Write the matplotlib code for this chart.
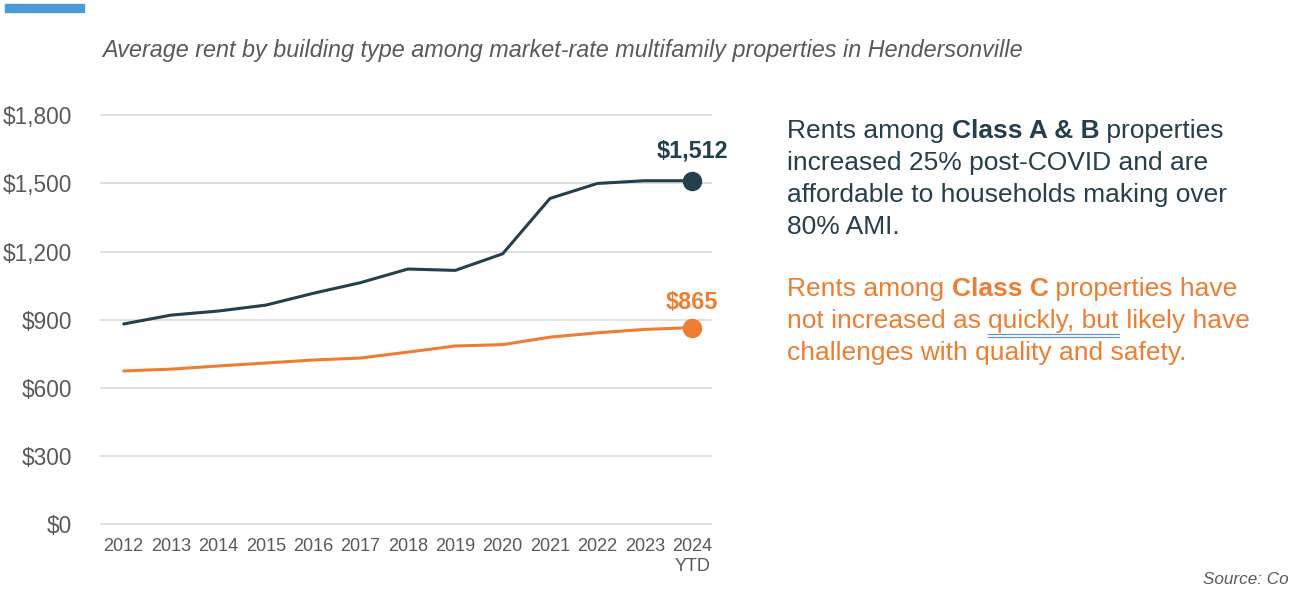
import matplotlib.pyplot as plt
from matplotlib.lines import Line2D

plt.rcParams['font.family'] = ['Liberation Sans', 'DejaVu Sans']

years = ['2012', '2013', '2014', '2015', '2016', '2017', '2018',
         '2019', '2020', '2021', '2022', '2023', '2024\nYTD']
class_ab = [881, 920, 938, 964, 1016, 1063, 1123, 1117, 1190, 1434, 1500, 1512, 1512]
class_c = [674, 682, 696, 709, 722, 731, 757, 784, 790, 823, 842, 857, 865]
yticks = [0, 300, 600, 900, 1200, 1500, 1800]

dark = '#243F4E'
orange = '#ED7D31'
gray = '#595959'

W, H = 1291, 592
fig = plt.figure(figsize=(W / 100, H / 100), dpi=100)

# axes placed in pixel terms
ax = fig.add_axes([100 / W, (H - 528.5) / H, 612 / W, (528.5 - 110.8) / H])
x = list(range(len(years)))
ax.plot(x, class_ab, color=dark, lw=2.2, solid_capstyle='round', zorder=3)
ax.plot(x, class_c, color=orange, lw=2.2, solid_capstyle='round', zorder=3)
ax.plot(x[-1], class_ab[-1], 'o', color=dark, ms=13, zorder=4)
ax.plot(x[-1], class_c[-1], 'o', color=orange, ms=13, zorder=4)

ax.annotate(f'${class_ab[-1]:,}', (x[-1], class_ab[-1]), xytext=(0, 13),
            textcoords='offset points', ha='center', va='bottom',
            fontsize=16.8, fontweight='bold', color=dark)
ax.annotate(f'${class_c[-1]:,}', (x[-1], class_c[-1]), xytext=(0, 10),
            textcoords='offset points', ha='center', va='bottom',
            fontsize=16.8, fontweight='bold', color=orange)

ax.set_xlim(-0.5, 12.42)
ax.set_ylim(-20, 1820)
ax.set_xticks(x)
ax.set_xticklabels(years, fontsize=13, color=gray)
ax.set_yticks(yticks)
ax.set_yticklabels([f'${v:,}' for v in yticks], fontsize=16.3, color=gray)
ax.tick_params(axis='both', length=0)
ax.tick_params(axis='x', pad=7)
ax.tick_params(axis='y', pad=20)
ax.grid(axis='y', color='#D9D9D9', lw=1.2)
ax.set_axisbelow(True)
for s in ax.spines.values():
    s.set_visible(False)

# top accent bar and title
fig.add_artist(plt.Rectangle((5 / W, 1 - 12 / H), 79 / W, 8 / H,
                             color='#4A9BD4', transform=fig.transFigure))
fig.text(102 / W, 1 - 50 / H, 'Average rent by building type among market-rate '
         'multifamily properties in Hendersonville', fontsize=16.8,
         style='italic', color=gray, va='center')
fig.text(1289 / W, 1 - 580 / H, 'Source: Co', fontsize=12.3, style='italic',
         color=gray, ha='right', va='center')

# right-hand commentary with mixed bold runs
renderer = fig.canvas.get_renderer()
SIZE = 19


def draw_runs(x0, y0, runs, color, size=SIZE):
    xp = x0
    for txt, weight in runs:
        t = fig.text(xp / W, 1 - y0 / H, txt, fontsize=size, fontweight=weight,
                     color=color, va='center', ha='left')
        bb = t.get_window_extent(renderer)
        xp += bb.width
    return xp


lines_ab = [
    [('Rents among ', 'normal'), ('Class A & B', 'bold'), (' properties', 'normal')],
    [('increased 25% post-COVID and are', 'normal')],
    [('affordable to households making over', 'normal')],
    [('80% AMI.', 'normal')],
]
lines_c = [
    [('Rents among ', 'normal'), ('Class C', 'bold'), (' properties have', 'normal')],
    [('not increased as ', 'normal'), ('quickly, but', 'normal'), (' likely have', 'normal')],
    [('challenges with quality and safety.', 'normal')],
]
for i, runs in enumerate(lines_ab):
    draw_runs(787, 131 + 32 * i, runs, dark)
for i, runs in enumerate(lines_c):
    draw_runs(787, 289 + 32 * i, runs, orange)

# spell-check style double underline under "quickly, but"
t1 = fig.text(787 / W, 0, 'not increased as ', fontsize=SIZE)
t2 = fig.text(787 / W, 0, 'not increased as quickly, but', fontsize=SIZE)
x1 = 787 + t1.get_window_extent(renderer).width
x2 = 787 + t2.get_window_extent(renderer).width
t1.remove()
t2.remove()
for yy in (334, 336.5):
    fig.add_artist(Line2D([x1 / W, x2 / W], [1 - yy / H, 1 - yy / H],
                          color='#5B8FD9', lw=0.8, transform=fig.transFigure))

fig.savefig('out.png', dpi=100)
